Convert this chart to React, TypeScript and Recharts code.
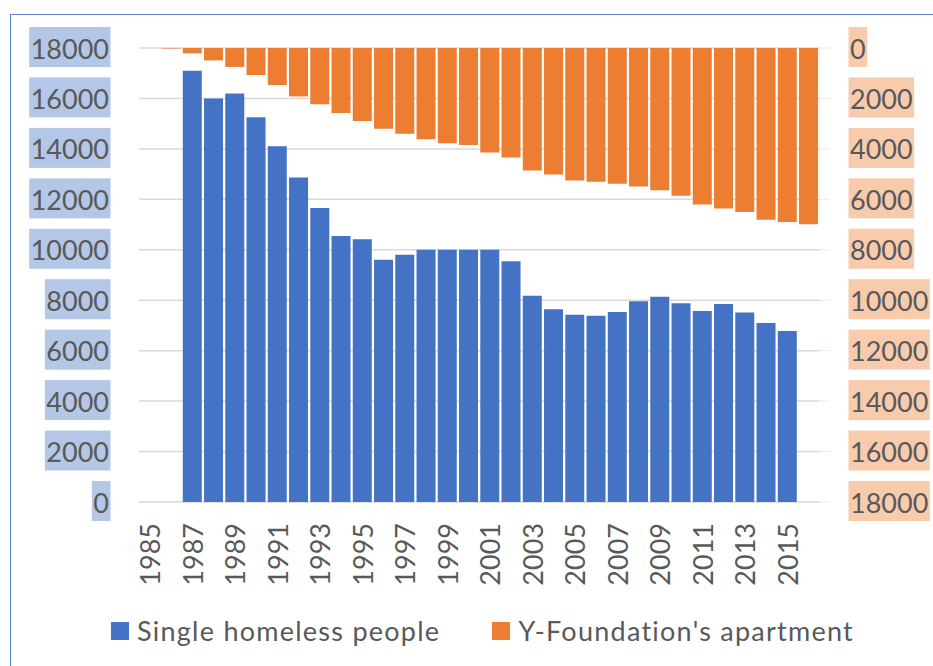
import React from "react";
import { BarChart, Bar, XAxis, YAxis, CartesianGrid } from "recharts";

const years = [
  "1985", "1986", "1987", "1988", "1989", "1990", "1991", "1992",
  "1993", "1994", "1995", "1996", "1997", "1998", "1999", "2000",
  "2001", "2002", "2003", "2004", "2005", "2006", "2007", "2008",
  "2009", "2010", "2011", "2012", "2013", "2014", "2015", "2016",
];

const homeless = [
  null, null, 17100, 16000, 16200, 15250, 14100, 12870,
  11660, 10550, 10420, 9600, 9800, 10000, 10000, 10000,
  10000, 9550, 8180, 7640, 7420, 7380, 7530, 7960,
  8140, 7880, 7570, 7850, 7510, 7100, 6780, null,
];

const apartments = [
  null, 20, 210, 490, 750, 1070, 1470, 1920,
  2230, 2580, 2890, 3200, 3400, 3620, 3780, 3850,
  4140, 4340, 4860, 5020, 5250, 5300, 5380, 5490,
  5640, 5860, 6200, 6360, 6500, 6810, 6900, 6990,
];

const yTicks = [0, 2000, 4000, 6000, 8000, 10000, 12000, 14000, 16000, 18000];

const BLUE = "#4472c4";
const ORANGE = "#ed7d31";
const TEXT = "#595959";
const FONT = "Lato, 'Open Sans', sans-serif";
const FS = 27;

const data = years.map((year, i) => ({
  year,
  homeless: homeless[i],
  apartments: apartments[i],
}));

let ctx: CanvasRenderingContext2D | null = null;
const textWidth = (t: string) => {
  if (!ctx) ctx = document.createElement("canvas").getContext("2d");
  if (!ctx) return t.length * 15.8;
  ctx.font = `${FS}px ${FONT}`;
  return ctx.measureText(t).width;
};

const LeftTick = (props: any) => {
  const { x, y, payload } = props;
  const label = String(payload.value);
  const w = textWidth(label);
  return (
    <g>
      <rect x={x - w - 1.5} y={y - 21} width={w + 3} height={40} fill="#b4c7e7" />
      <text x={x} y={y} textAnchor="end" dominantBaseline="central" fill={TEXT} fontSize={FS} fontFamily={FONT}>
        {label}
      </text>
    </g>
  );
};

const RightTick = (props: any) => {
  const { x, y, payload } = props;
  const label = String(payload.value);
  const w = textWidth(label);
  return (
    <g>
      <rect x={x - 1.5} y={y - 21} width={w + 3} height={40} fill="#f8cbad" />
      <text x={x} y={y} textAnchor="start" dominantBaseline="central" fill={TEXT} fontSize={FS} fontFamily={FONT}>
        {label}
      </text>
    </g>
  );
};

const YearTick = (props: any) => {
  const { x, y, payload } = props;
  return (
    <text
      x={x}
      y={y}
      transform={`rotate(-90, ${x}, ${y})`}
      textAnchor="end"
      dominantBaseline="central"
      fill={TEXT}
      fontSize={FS}
      fontFamily={FONT}
    >
      {payload.value}
    </text>
  );
};

const LegendItem = ({ color, label }: { color: string; label: string }) => (
  <div style={{ display: "flex", alignItems: "center" }}>
    <div style={{ width: 18, height: 18, background: color, marginRight: 8 }} />
    <span style={{ fontSize: FS, color: TEXT, fontFamily: FONT, lineHeight: "34px", letterSpacing: "1.25px" }}>
      {label}
    </span>
  </div>
);

export default function App() {
  return (
    <div style={{ position: "absolute", left: 0, top: 0, width: 933, height: 666, overflow: "hidden", background: "#fff" }}>
      <div
        style={{
          position: "absolute",
          left: 10,
          top: 14,
          width: 940,
          height: 700,
          borderLeft: "1.5px solid #5b82c8",
          borderTop: "1.5px solid #5b82c8",
        }}
      />
      <BarChart
        width={933}
        height={666}
        data={data}
        margin={{ top: 48, right: 0, bottom: 74, left: 0 }}
        barCategoryGap="6%"
        style={{ position: "absolute", left: 0, top: 0 }}
      >
        <CartesianGrid yAxisId="left" xAxisId="a" vertical={false} stroke="#d9d9d9" strokeWidth={1.5} />
        <XAxis
          xAxisId="a"
          dataKey="year"
          height={90}
          interval={1}
          axisLine={false}
          tickLine={false}
          tickSize={0}
          tickMargin={21}
          tick={<YearTick />}
        />
        <XAxis xAxisId="b" dataKey="year" hide />
        <YAxis
          yAxisId="left"
          width={139}
          domain={[0, 18000]}
          ticks={yTicks}
          axisLine={false}
          tickLine={false}
          tickSize={0}
          tickMargin={30}
          tick={<LeftTick />}
        />
        <YAxis
          yAxisId="right"
          orientation="right"
          width={114}
          reversed
          domain={[0, 18000]}
          ticks={yTicks}
          axisLine={false}
          tickLine={{ stroke: "#fbe5d6" }}
          tickSize={11}
          tickMargin={20}
          tick={<RightTick />}
        />
        <Bar
          dataKey="apartments"
          name="Y-Foundation's apartment"
          xAxisId="b"
          yAxisId="right"
          fill={ORANGE}
          isAnimationActive={false}
        />
        <Bar
          dataKey="homeless"
          name="Single homeless people"
          xAxisId="a"
          yAxisId="left"
          fill={BLUE}
          isAnimationActive={false}
        />
      </BarChart>
      <div
        style={{
          position: "absolute",
          top: 614,
          left: 111,
          display: "flex",
          gap: 52,
        }}
      >
        <LegendItem color={BLUE} label="Single homeless people" />
        <LegendItem color={ORANGE} label="Y-Foundation's apartment" />
      </div>
    </div>
  );
}
